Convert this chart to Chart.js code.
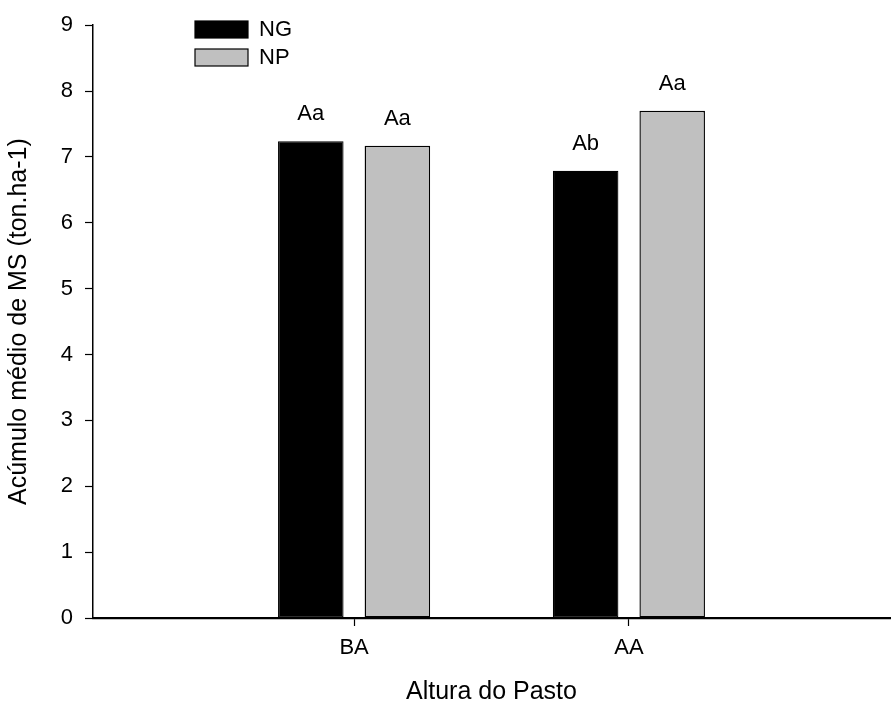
<!DOCTYPE html>
<html>
<head>
<meta charset="utf-8">
<script src="https://cdn.jsdelivr.net/npm/chart.js@4/dist/chart.umd.min.js"></script>
<style>
  html, body { margin: 0; padding: 0; background: #fff; }
  #wrap { width: 893px; height: 711px; }
</style>
</head>
<body>
<div id="wrap"><canvas id="chart" width="893" height="711"></canvas></div>
<script>
// dados
const categorias = ["BA", "AA"];
const valoresNG = [7.24, 6.79];
const valoresNP = [7.17, 7.70];
const letrasNG = ["Aa", "Ab"];
const letrasNP = ["Aa", "Aa"];
const yTicks = [0, 1, 2, 3, 4, 5, 6, 7, 8, 9];

const FONT = "'Liberation Sans', Arial, sans-serif";

const toPoints = vals => vals.map((v, i) => ({ x: i + 1, y: v }));

// letras acima das barras
const letrasPlugin = {
  id: "letras",
  afterDatasetsDraw(chart) {
    const ctx = chart.ctx;
    const letras = [letrasNG, letrasNP];
    ctx.save();
    ctx.font = "22px " + FONT;
    ctx.fillStyle = "#000";
    ctx.textAlign = "center";
    ctx.textBaseline = "bottom";
    chart.data.datasets.forEach((ds, di) => {
      chart.getDatasetMeta(di).data.forEach((bar, i) => {
        ctx.fillText(letras[di][i], bar.x, bar.y - 16);
      });
    });
    ctx.restore();
  }
};

// legenda dentro da área do gráfico
const legendaPlugin = {
  id: "legenda",
  afterDraw(chart) {
    const ctx = chart.ctx;
    const x0 = 195, y0 = 21;
    ctx.save();
    ctx.font = "22px " + FONT;
    ctx.textBaseline = "middle";
    chart.data.datasets.forEach((ds, i) => {
      const y = y0 + i * 28;
      ctx.fillStyle = ds.backgroundColor;
      ctx.fillRect(x0, y, 53, 17);
      ctx.strokeStyle = "#000";
      ctx.lineWidth = 1.2;
      ctx.strokeRect(x0, y, 53, 17);
      ctx.fillStyle = "#000";
      ctx.fillText(ds.label, x0 + 64, y + 9);
    });
    ctx.restore();
  }
};

new Chart(document.getElementById("chart"), {
  type: "bar",
  data: {
    datasets: [
      {
        label: "NG",
        data: toPoints(valoresNG),
        backgroundColor: "#000000",
        borderColor: "#000000",
        borderWidth: 1.2,
        borderSkipped: false,
      },
      {
        label: "NP",
        data: toPoints(valoresNP),
        backgroundColor: "#c0c0c0",
        borderColor: "#000000",
        borderWidth: 1.4,
        borderSkipped: false,
      },
    ],
  },
  options: {
    responsive: false,
    animation: false,
    categoryPercentage: 0.63,
    barPercentage: 0.757,
    layout: { padding: { top: 24, right: 3, left: 0, bottom: 0 } },
    plugins: {
      legend: { display: false },
      tooltip: { enabled: false },
    },
    scales: {
      x: {
        type: "linear",
        offset: false,
        min: 0.05,
        max: 2.95,
        afterBuildTicks: scale => {
          scale.ticks = categorias.map((c, i) => ({ value: i + 1 }));
        },
        afterFit: scale => { scale.height = 93; },
        ticks: {
          callback: v => categorias[v - 1],
          color: "#000",
          font: { family: FONT, size: 22 },
          padding: 9,
        },
        grid: { offset: false, drawOnChartArea: false, tickLength: 8, tickColor: "#000", tickWidth: 1.2 },
        border: { color: "#000", width: 2.2 },
        title: {
          display: true,
          text: "Altura do Pasto",
          color: "#000",
          font: { family: FONT, size: 25 },
          padding: { top: 9 },
        },
      },
      y: {
        min: 0,
        max: 9,
        afterBuildTicks: scale => {
          scale.ticks = yTicks.map(v => ({ value: v }));
        },
        afterFit: scale => { scale.width = 93; },
        ticks: {
          color: "#000",
          font: { family: FONT, size: 22 },
          padding: 12,
        },
        grid: { drawOnChartArea: false, tickLength: 8, tickColor: "#000", tickWidth: 1.2 },
        border: { color: "#000", width: 1.5 },
        title: {
          display: true,
          text: "Acúmulo médio de MS (ton.ha-1)",
          color: "#000",
          font: { family: FONT, size: 25 },
          padding: { bottom: 2 },
        },
      },
    },
  },
  plugins: [letrasPlugin, legendaPlugin],
});
</script>
</body>
</html>
